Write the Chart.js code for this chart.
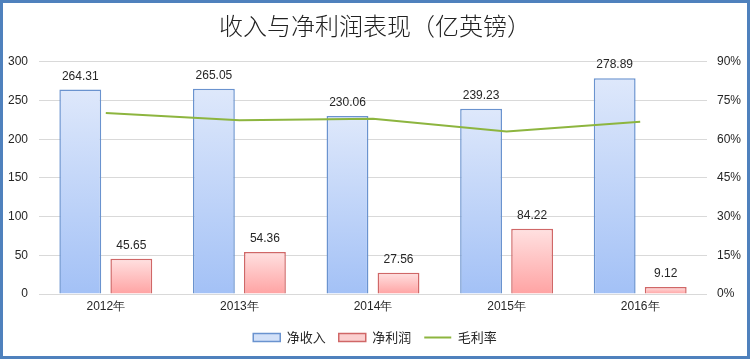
<!DOCTYPE html>
<html>
<head>
<meta charset="utf-8">
<script src="https://cdn.jsdelivr.net/npm/chart.js@4/dist/chart.umd.min.js"></script>
<style>
html,body{margin:0;padding:0;background:#fff;}
#wrap{position:relative;width:750px;height:359px;}
</style>
</head>
<body>
<div id="wrap"><canvas id="c" width="750" height="359"></canvas></div>
<script>
const categories = ['2012年', '2013年', '2014年', '2015年', '2016年'];
const revenue = [264.31, 265.05, 230.06, 239.23, 278.89];
const netProfit = [45.65, 54.36, 27.56, 84.22, 9.12];
const grossMargin = [70.2, 67.3, 67.9, 63.0, 66.8];
const seriesNames = ['净收入', '净利润', '毛利率'];
const titleText = '收入与净利润表现（亿英镑）';

function barGradient(top, bottom) {
  return function (ctx) {
    const chart = ctx.chart;
    if (ctx.type !== 'data' || !chart.chartArea) return top;
    const y = chart.scales.y;
    const v = ctx.parsed ? ctx.parsed.y : ctx.raw;
    const y0 = y.getPixelForValue(v);
    const y1 = y.getPixelForValue(0);
    if (!isFinite(y0) || y1 - y0 < 1) return top;
    const g = chart.ctx.createLinearGradient(0, y0, 0, y1);
    g.addColorStop(0, top);
    g.addColorStop(1, bottom);
    return g;
  };
}

const valueLabels = {
  id: 'valueLabels',
  afterDatasetsDraw(chart) {
    const ctx = chart.ctx;
    ctx.save();
    ctx.font = '12px "Liberation Sans", Arial, sans-serif';
    ctx.fillStyle = '#262626';
    ctx.textAlign = 'center';
    ctx.textBaseline = 'middle';
    chart.data.datasets.forEach((ds, i) => {
      if (ds.type !== 'bar') return;
      const meta = chart.getDatasetMeta(i);
      meta.data.forEach((el, j) => {
        ctx.fillText(ds.data[j].toFixed(2), el.x, el.y - 13);
      });
    });
    ctx.restore();
  }
};

const frame = {
  id: 'frame',
  afterDraw(chart) {
    const ctx = chart.ctx;
    ctx.save();
    ctx.strokeStyle = '#4F81BD';
    ctx.lineWidth = 3;
    ctx.strokeRect(1.5, 1.5, chart.width - 3, chart.height - 3);
    ctx.restore();
  }
};

new Chart(document.getElementById('c'), {
  data: {
    labels: categories,
    datasets: [
      {
        type: 'bar', label: seriesNames[0], data: revenue, yAxisID: 'y', order: 2,
        backgroundColor: barGradient('#DEE8FB', '#A3C1F6'),
        borderColor: '#6A93CF', borderWidth: 1.5,
        categoryPercentage: 0.764, barPercentage: 0.82,
        legendFill: '#D3E1F8'
      },
      {
        type: 'bar', label: seriesNames[1], data: netProfit, yAxisID: 'y', order: 2,
        backgroundColor: barGradient('#FFE1E1', '#FFA3A3'),
        borderColor: '#D06767', borderWidth: 1.5,
        categoryPercentage: 0.764, barPercentage: 0.82,
        legendFill: '#FBD0D0'
      },
      {
        type: 'line', label: seriesNames[2], data: grossMargin, yAxisID: 'y1', order: 0,
        borderColor: '#8DB53F', borderWidth: 2, pointRadius: 0, tension: 0, fill: false
      }
    ]
  },
  options: {
    responsive: false,
    animation: false,
    events: [],
    layout: { padding: { left: 0, right: 0, top: 0, bottom: 5 } },
    plugins: {
      tooltip: { enabled: false },
      title: {
        display: true, text: titleText, color: '#222222',
        font: { family: '"Noto Sans CJK SC", sans-serif', size: 24, weight: 300, lineHeight: 1.2 },
        padding: { top: 11, bottom: 22 }
      },
      legend: {
        position: 'bottom',
        labels: {
          usePointStyle: true,
          pointStyleWidth: 27,
          boxHeight: 8,
          padding: 13,
          color: '#262626',
          font: { family: '"Noto Sans CJK SC", sans-serif', size: 13 },
          generateLabels(chart) {
            return chart.data.datasets.map((ds, i) => ({
              text: ds.label,
              datasetIndex: i,
              fillStyle: ds.type === 'bar' ? ds.legendFill : ds.borderColor,
              strokeStyle: ds.borderColor,
              lineWidth: ds.type === 'bar' ? 1.5 : 2,
              pointStyle: ds.type === 'bar' ? 'rect' : 'line',
              hidden: false,
              fontColor: '#262626'
            }));
          }
        }
      }
    },
    scales: {
      x: {
        grid: { display: false, drawTicks: false },
        border: { display: false },
        ticks: { color: '#262626', padding: 5, font: { family: '"Liberation Sans", sans-serif', size: 12 } },
        afterFit(s) { s.height = 24; }
      },
      y: {
        position: 'left', min: 0, max: 300,
        grid: { color: '#D9D9D9', drawTicks: false, lineWidth: 1 },
        border: { display: false },
        ticks: { stepSize: 50, color: '#262626', padding: 11, font: { family: '"Liberation Sans", sans-serif', size: 12 } },
        afterFit(s) { s.width = 39; }
      },
      y1: {
        position: 'right', min: 0, max: 90,
        grid: { display: false, drawTicks: false },
        border: { display: false },
        ticks: { stepSize: 15, color: '#262626', padding: 10, font: { family: '"Liberation Sans", sans-serif', size: 12 },
          callback: v => v + '%' },
        afterFit(s) { s.width = 43; }
      }
    }
  },
  plugins: [valueLabels, frame]
});
</script>
</body>
</html>
